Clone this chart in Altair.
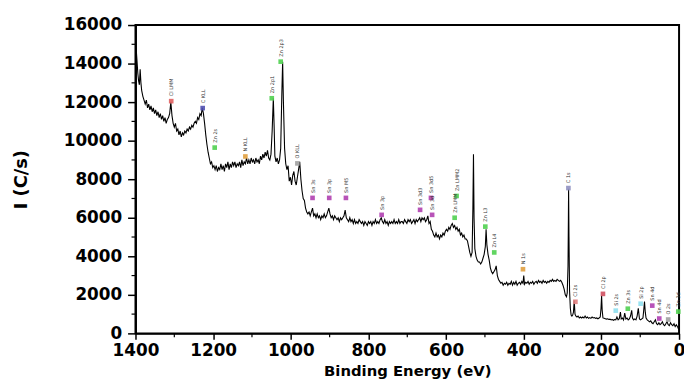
import altair as alt
import pandas as pd

# ---- survey spectrum (binding energy eV, intensity C/s) ----
seg_high = [
    (1400, 14900), (1398, 14700), (1396, 14100), (1394, 13500), (1392, 13100), (1390, 12900),
    (1388, 13700), (1386, 13000), (1384, 12600), (1381, 12300), (1378, 12100), (1375, 11900),
    (1372, 12100), (1369, 11700), (1366, 11900), (1363, 11600), (1360, 11800), (1357, 11500),
    (1354, 11700), (1351, 11400), (1348, 11600), (1345, 11300), (1342, 11500), (1339, 11200),
    (1336, 11400), (1333, 11100), (1330, 11300), (1327, 11000), (1324, 11200), (1321, 10900),
    (1318, 11100), (1315, 11200), (1312, 11400), (1309, 12000), (1306, 11300), (1303, 10900),
    (1300, 10700), (1297, 10900), (1294, 10500), (1291, 10600), (1288, 10300), (1285, 10500),
    (1282, 10200), (1279, 10400), (1276, 10300), (1273, 10500), (1270, 10400), (1267, 10600),
    (1264, 10500), (1261, 10700), (1258, 10600), (1255, 10800), (1252, 10700), (1249, 10900),
    (1246, 11000), (1243, 10900), (1240, 11200), (1237, 11100), (1234, 11400), (1231, 11300),
    (1228, 11700), (1225, 11400), (1222, 10900), (1219, 10300), (1216, 9800), (1213, 9400),
    (1210, 9100), (1207, 8800), (1204, 8900), (1201, 8600), (1198, 8700), (1195, 8500),
    (1192, 8700), (1189, 8400), (1186, 8600), (1183, 8500), (1180, 8800), (1177, 8500),
    (1174, 8700), (1171, 8400), (1168, 8800), (1165, 8600), (1162, 8900), (1159, 8500),
    (1156, 8800), (1153, 8600), (1150, 8900), (1147, 8700), (1144, 8900), (1141, 8600),
    (1138, 8800), (1135, 8700), (1132, 8900), (1129, 8600), (1126, 9000), (1123, 8700),
    (1120, 8900), (1117, 8800), (1114, 9100), (1111, 8800), (1108, 9000), (1105, 8800),
    (1102, 9100), (1099, 8900), (1096, 9000), (1093, 8800), (1090, 9100), (1087, 8900),
    (1084, 9000), (1081, 8800), (1078, 9200), (1075, 9000), (1072, 9300), (1069, 9100),
    (1066, 9400), (1063, 9200), (1060, 9500), (1057, 9100), (1054, 9000), (1051, 9300),
    (1048, 10500), (1045, 12200), (1043, 10800), (1041, 9200), (1038, 8900), (1035, 9100),
    (1032, 8800), (1029, 9000), (1026, 9600), (1023, 12500), (1021, 14100), (1019, 12000),
    (1016, 9600), (1013, 8800), (1010, 8500), (1007, 8700), (1004, 7900), (1001, 8100),
]
seg_mid = [
    (998, 7700), (995, 8200), (992, 8400), (989, 7900), (986, 7700), (983, 8100),
    (980, 8500), (977, 8900), (974, 8000), (971, 7400), (968, 7000), (965, 6900),
    (962, 6500), (959, 6300), (956, 6200), (953, 6300), (950, 6100), (947, 6300),
    (944, 6500), (941, 6100), (938, 6200), (935, 6000), (932, 6200), (929, 6000),
    (926, 6100), (923, 5900), (920, 6100), (917, 6000), (914, 6200), (911, 6000),
    (908, 6100), (905, 6300), (902, 6500), (899, 6200), (896, 6000), (893, 6100),
    (890, 5900), (887, 6100), (884, 6000), (881, 5900), (878, 6000), (875, 5800),
    (872, 6000), (869, 5900), (866, 6000), (863, 6100), (860, 6400), (857, 6000),
    (854, 5900), (851, 5800), (848, 6000), (845, 5800), (842, 5900), (839, 5700),
    (836, 5900), (833, 5700), (830, 5800), (827, 5700), (824, 5900), (821, 5800),
    (818, 5700), (815, 5800), (812, 5600), (809, 5800), (806, 5700), (803, 5600),
    (800, 5800), (797, 5700), (794, 5800), (791, 5600), (788, 5800), (785, 5700),
    (782, 5900), (779, 5700), (776, 5800), (773, 5700), (770, 5900), (767, 6000),
    (764, 5800), (761, 5700), (758, 5900), (755, 5700), (752, 5800), (749, 5600),
    (746, 5800), (743, 5700), (740, 5800), (737, 5700), (734, 5900), (731, 5700),
    (728, 5800), (725, 5700), (722, 5900), (719, 5700), (716, 5800), (713, 5800),
    (710, 5700), (707, 5900), (704, 5800), (701, 5700), (698, 5900), (695, 5800),
    (692, 5900), (689, 5700), (686, 5800), (683, 5900), (680, 5700), (677, 5900),
    (674, 5800), (671, 5900), (668, 6000), (665, 5800), (662, 6000), (659, 5900),
    (656, 6000), (653, 5800), (650, 5900), (647, 6100), (644, 5700), (641, 5800),
    (638, 5400), (635, 5300), (632, 5100), (629, 5000), (626, 5200), (623, 5000),
    (620, 5100), (617, 4900), (614, 5100), (611, 5000), (608, 5200), (605, 5100),
    (602, 5300), (599, 5400), (596, 5300), (593, 5500), (590, 5400), (587, 5600),
    (584, 5700), (581, 5500), (578, 5600), (575, 5400), (572, 5500), (569, 5300),
    (566, 5400), (563, 5100), (560, 5200), (557, 5000), (554, 5100), (551, 4900),
    (548, 4900), (545, 4800), (542, 4500), (539, 4200), (536, 4000), (533, 4200),
    (531, 6500), (529.5, 9300), (528, 6000), (526, 4400), (523, 4000), (520, 3800),
    (517, 3700), (514, 3700), (511, 3600), (508, 3700), (505, 3900), (502, 4100),
    (499, 4500), (497, 5400), (495, 4600), (492, 4100), (489, 3800), (486, 3400),
    (483, 3200), (480, 3100), (477, 3200), (474, 3300), (471, 3500), (468, 3000),
    (465, 2800), (462, 2700), (459, 2600), (456, 2650), (453, 2500),
]
seg_low = [
    (450, 2600), (447, 2550), (444, 2650), (441, 2500), (438, 2600), (435, 2550),
    (432, 2700), (429, 2500), (426, 2650), (423, 2550), (420, 2700), (417, 2500),
    (414, 2600), (411, 2650), (408, 2550), (405, 2700), (402, 2600), (400, 3000),
    (398, 2550), (395, 2650), (392, 2600), (389, 2700), (386, 2550), (383, 2650),
    (380, 2600), (377, 2700), (374, 2550), (371, 2650), (368, 2700), (365, 2600),
    (362, 2750), (359, 2650), (356, 2700), (353, 2600), (350, 2750), (347, 2650),
    (344, 2700), (341, 2600), (338, 2700), (335, 2650), (332, 2750), (329, 2700),
    (326, 2800), (323, 2700), (320, 2750), (317, 2700), (314, 2800), (311, 2750),
    (308, 2700), (305, 2750), (302, 2650), (299, 2500), (296, 2300), (293, 2000),
    (290, 1900), (288, 2100), (286, 3500), (285, 6000), (284.5, 7500), (283.5, 5000),
    (282, 2200), (280, 1300), (278, 950), (276, 900), (274, 950), (272, 1100),
    (270, 1700), (268, 1000), (266, 900), (263, 850), (260, 900), (257, 800),
    (254, 850), (251, 800), (248, 850), (245, 800), (242, 900), (239, 800),
    (236, 850), (233, 780), (230, 820), (227, 780), (224, 850), (221, 800),
    (218, 820), (215, 780), (212, 800), (209, 760), (206, 800), (203, 850),
    (201, 1300), (199.5, 1950), (198, 1200), (196, 800), (193, 780), (190, 760),
    (187, 740), (184, 760), (181, 720), (178, 740), (175, 700), (172, 720),
    (169, 680), (166, 720), (163, 700), (160, 850), (157, 700), (154, 760),
    (151, 1100), (149, 750), (146, 800), (143, 700), (140, 1050), (137, 750),
    (134, 800), (131, 700), (128, 750), (125, 900), (122, 1200), (120, 800),
    (117, 700), (114, 750), (111, 700), (108, 900), (105, 1300), (102, 750),
    (99, 700), (96, 750), (93, 800), (91, 1200), (89, 1650), (87, 1100),
    (85, 800), (82, 700), (79, 650), (76, 600), (73, 650), (70, 550),
    (67, 500), (64, 600), (61, 700), (58, 500), (55, 450), (52, 550),
    (49, 450), (46, 500), (43, 600), (40, 450), (37, 400), (34, 500),
    (31, 600), (28, 450), (25, 400), (22, 550), (19, 450), (16, 400),
    (13, 500), (10, 350), (7, 450), (4, 350), (2, 250), (0, 200),
]

# ---- peak markers ----
mark_be = [1308, 1227, 1196, 1117, 1049, 1026, 983, 944, 901, 858, 766, 667, 639, 636,
           573, 578, 499, 476, 402, 285, 267, 196, 163, 132, 99, 69, 51, 28, 2]
mark_int = [12050, 11690, 9640, 9180, 12200, 14100, 8820, 7030, 7030, 7030, 6150, 6410, 7030, 6150,
            7130, 6000, 5540, 4200, 3330, 7540, 1640, 2050, 1180, 1280, 1540, 1440, 770, 720, 1130]
mark_col = ["#e06060", "#5050b0", "#50d050", "#e0a040", "#50d050", "#50d050", "#a0a0a0",
            "#b040b0", "#b040b0", "#b040b0", "#b040b0", "#b040b0", "#b040b0", "#b040b0",
            "#50d050", "#50d050", "#50d050", "#50d050", "#e0a040", "#9090c0", "#e08080",
            "#d05060", "#90e0f0", "#50d050", "#90e0f0", "#b040b0", "#b040b0", "#a0a0a0", "#50d050"]
mark_lab = ["Cl LMM", "C KLL", "Zn 2s", "N KLL", "Zn 2p1", "Zn 2p3", "O KLL",
            "Sn 3s", "Sn 3p", "Sn M5", "Sn 3p", "Sn 3d3", "Sn 3d5", "Sn 3d",
            "Zn LMM2", "Zn LMM", "Zn L3", "Zn L4", "N 1s", "C 1s", "Cl 2s",
            "Cl 2p", "Si 2s", "Zn 3s", "Si 2p", "Sn 4d", "Sn 4d", "O 2s", "Zn 3d"]

y_major = [0, 2000, 4000, 6000, 8000, 10000, 12000, 14000, 16000]
y_minor = [1000, 3000, 5000, 7000, 9000, 11000, 13000, 15000]
x_major = [1400, 1200, 1000, 800, 600, 400, 200, 0]
x_minor = [1300, 1100, 900, 700, 500, 300, 100]

spec = pd.DataFrame(seg_high + seg_mid + seg_low, columns=["be", "cnt"])
marks = pd.DataFrame({"be": mark_be, "cnt": mark_int, "col": mark_col, "lab": mark_lab})
ymin_df = pd.DataFrame({"v": y_minor})
xmin_df = pd.DataFrame({"v": x_minor})

FONT = "DejaVu Sans"
xs = alt.Scale(domain=[0, 1400], reverse=True, nice=False, zero=False)
ys = alt.Scale(domain=[0, 16000], nice=False)

line = alt.Chart(spec).mark_line(color="black", strokeWidth=1.1, clip=True).encode(
    x=alt.X("be:Q", scale=xs, axis=alt.Axis(
        values=x_major, tickCount=30, title="Binding Energy (eV)", orient="bottom", grid=False,
        format="d", labelOverlap=False,
        labelFont=FONT, labelFontWeight="bold", labelFontSize=17, labelColor="black",
        labelPadding=3, tickSize=6, tickWidth=1.5, tickColor="black",
        domainColor="black", domainWidth=2, labelFlush=False,
        titleFont=FONT, titleFontWeight="bold", titleFontSize=15, titleColor="black",
        titlePadding=6)),
    y=alt.Y("cnt:Q", scale=ys, axis=alt.Axis(
        values=y_major, tickCount=30, title="I (C/s)", orient="left", grid=False,
        format="d", labelOverlap=False,
        labelFont=FONT, labelFontWeight="bold", labelFontSize=17, labelColor="black",
        labelPadding=6, tickSize=8, tickWidth=1.5, tickColor="black",
        domainColor="black", domainWidth=2, labelFlush=False,
        titleFont=FONT, titleFontWeight="bold", titleFontSize=18, titleColor="black",
        titlePadding=33)),
)

y_minor_ticks = alt.Chart(ymin_df).mark_rule(color="black", strokeWidth=1.2).encode(
    y=alt.Y("v:Q", scale=ys),
    x=alt.value(-4), x2=alt.value(0),
)
x_minor_ticks = alt.Chart(xmin_df).mark_rule(color="black", strokeWidth=1.2).encode(
    x=alt.X("v:Q", scale=xs),
    y=alt.value(312), y2=alt.value(316),
)

pts = alt.Chart(marks).mark_point(shape="square", filled=True, size=22, opacity=0.9).encode(
    x=alt.X("be:Q", scale=xs),
    y=alt.Y("cnt:Q", scale=ys),
    color=alt.Color("col:N", scale=None),
)

labs = alt.Chart(marks).mark_text(angle=270, align="left", baseline="middle", dx=5,
                                  fontSize=5, font=FONT, color="#333333").encode(
    x=alt.X("be:Q", scale=xs),
    y=alt.Y("cnt:Q", scale=ys),
    text="lab:N",
)

chart = alt.layer(line, y_minor_ticks, x_minor_ticks, pts, labs).properties(
    width=550, height=312,
    autosize=alt.AutoSizeParams(type="none"),
    padding={"left": 129, "top": 15, "right": 5, "bottom": 50},
    background="white",
).configure_view(stroke="black", strokeWidth=2)

chart.save("out.html", embed_options={"renderer": "svg", "actions": False})
